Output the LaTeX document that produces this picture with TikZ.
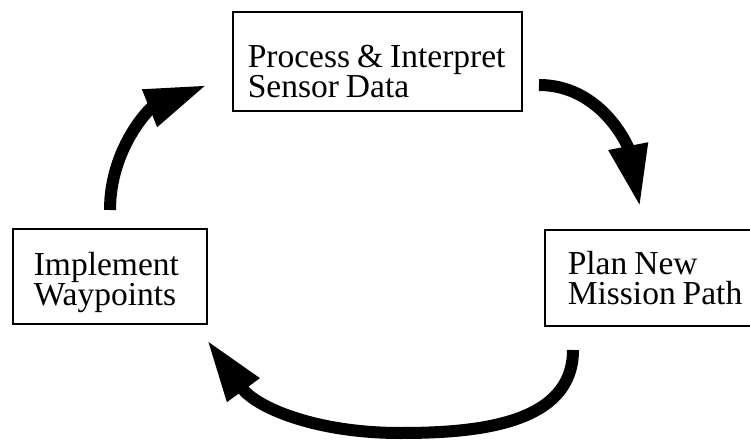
\documentclass[tikz,border=0pt]{standalone}
\usepackage{fontspec}
\setmainfont{Liberation Serif}
\usepackage{tikz}
\usetikzlibrary{arrows.meta}
\tikzset{
    stagebox/.style={draw, line width=1.6pt, align=left, inner ysep=0pt, anchor=base west,
        font=\fontsize{33.5}{30}\selectfont,
        execute at begin node={\hyphenpenalty=10000 \spaceskip=7pt plus 1pt}},
    looparrow/.style={line width=12pt, -{Triangle[length=62pt, width=37pt]}}
}

\begin{document}
\begin{tikzpicture}[x=1pt, y=1pt]
    \useasboundingbox (0,0) rectangle (750,440);
    \clip (0,0) rectangle (750,440);

    % the three stages of the loop
    \node[stagebox, inner xsep=15pt, text width=259pt, text height=56pt, text depth=43pt]
        (process) at (232,372) {Process~\&~Interpret\\Sensor~Data};
    \node[stagebox, inner xsep=21pt, text width=152pt, text height=46pt, text depth=49pt]
        (implement) at (12,165) {Implement\\Waypoints};
    \node[stagebox, inner xsep=23pt, text width=190pt, text height=44pt, text depth=52pt]
        (plan) at (544,166) {Plan~New\\Mission~Path};

    % arrow ends
    \coordinate (a1) at (110,230);
    \coordinate (a2) at (207,355);
    \coordinate (b1) at (539,355);
    \coordinate (b2) at (640,233);
    \coordinate (c1) at (573,90);
    \coordinate (c2) at (400,7);
    \coordinate (c3) at (207,100);

    % arrows
    \draw[looparrow] (a1) to[out=90, in=202] (a2);
    \draw[looparrow] (b1) to[out=0, in=101] (b2);
    \draw[looparrow] (c1) to[out=270, in=0] (c2) to[out=180, in=306] (c3);
\end{tikzpicture}
\end{document}
